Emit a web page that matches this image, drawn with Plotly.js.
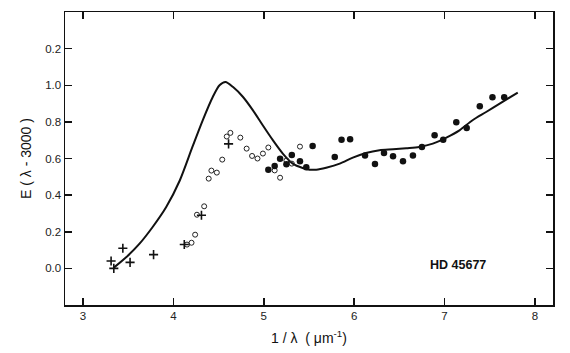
<!DOCTYPE html>
<html>
<head>
<meta charset="utf-8">
<script src="https://cdn.plot.ly/plotly-3.0.1.min.js"></script>
<style>html,body{margin:0;padding:0;background:#fff;}#chart{width:570px;height:353px;}</style>
</head>
<body>
<div id="chart"></div>
<script>
// Data
var plusX = [3.31, 3.34, 3.44, 3.52, 3.78, 4.12, 4.31, 4.61];
var plusY = [0.04, 0.00, 0.11, 0.033, 0.075, 0.13, 0.29, 0.68];

var openX = [4.15, 4.20, 4.24, 4.26, 4.34, 4.39, 4.42, 4.48, 4.54, 4.59, 4.63, 4.74, 4.81, 4.87, 4.93, 4.99, 5.05, 5.12, 5.18, 5.25, 5.31, 5.40];
var openY = [0.13, 0.14, 0.184, 0.293, 0.339, 0.49, 0.534, 0.523, 0.594, 0.72, 0.74, 0.714, 0.654, 0.614, 0.60, 0.627, 0.66, 0.535, 0.495, 0.589, 0.572, 0.665];

var filledX = [5.05, 5.12, 5.18, 5.25, 5.31, 5.40, 5.47, 5.54, 5.785, 5.86, 5.955, 6.12, 6.23, 6.33, 6.43, 6.54, 6.65, 6.75, 6.89, 6.985, 7.13, 7.245, 7.39, 7.53, 7.66];
var filledY = [0.539, 0.559, 0.599, 0.568, 0.619, 0.585, 0.552, 0.668, 0.608, 0.703, 0.705, 0.617, 0.570, 0.630, 0.612, 0.585, 0.617, 0.663, 0.727, 0.703, 0.798, 0.767, 0.885, 0.934, 0.934];

var curveX = [3.34, 3.48, 3.625, 3.77, 3.92, 4.07, 4.21, 4.325, 4.435, 4.51, 4.576, 4.66, 4.77, 4.88, 4.99, 5.10, 5.21, 5.32, 5.43, 5.505, 5.58, 5.69, 5.84, 5.985, 6.13, 6.28, 6.43, 6.575, 6.72, 6.87, 7.02, 7.165, 7.31, 7.46, 7.61, 7.81];
var curveY = [0.004, 0.062, 0.135, 0.226, 0.335, 0.48, 0.663, 0.81, 0.936, 1.0, 1.018, 0.99, 0.936, 0.863, 0.78, 0.70, 0.627, 0.572, 0.548, 0.539, 0.539, 0.55, 0.572, 0.605, 0.63, 0.645, 0.65, 0.656, 0.663, 0.681, 0.714, 0.754, 0.809, 0.854, 0.90, 0.96];

var xTicks = [3, 4, 5, 6, 7, 8];
var yTicks = [0, 0.2, 0.4, 0.6, 0.8, 1.0, 1.2];
var yTickText = ["0.0", "0.2", "0.4", "0.6", "0.8", "1.0", "0.2"];

var traces = [
  {x: curveX, y: curveY, mode: 'lines', line: {color: '#111', width: 2, shape: 'spline', smoothing: 0.8}, hoverinfo: 'skip'},
  {x: openX, y: openY, mode: 'markers', marker: {symbol: 'circle-open', size: 5, color: '#222', line: {width: 1, color: '#222'}}},
  {x: filledX, y: filledY, mode: 'markers', marker: {symbol: 'circle', size: 6.5, color: '#111'}},
  {x: plusX, y: plusY, mode: 'markers', marker: {symbol: 'cross-thin-open', size: 6.5, color: '#111', line: {width: 1.6, color: '#111'}}}
];

var layout = {
  width: 570, height: 353,
  margin: {l: 65, r: 17, t: 12, b: 48},
  paper_bgcolor: '#fff', plot_bgcolor: '#fff',
  showlegend: false,
  font: {family: 'Liberation Sans, Arial, sans-serif', color: '#222', size: 11},
  xaxis: {
    range: [2.8, 8.2], tickvals: xTicks, ticktext: xTicks.map(String),
    ticks: 'inside', ticklen: 7, tickwidth: 1.5, tickcolor: '#111',
    showline: true, linecolor: '#111', linewidth: 1.5, mirror: 'ticks',
    showgrid: false, zeroline: false,
    tickfont: {size: 11.5},
    title: {text: '1 / λ  ( μm<sup>-1</sup>)', font: {size: 14, color: '#111'}, standoff: 12}
  },
  yaxis: {
    range: [-0.2, 1.4], tickvals: yTicks, ticktext: yTickText,
    ticks: 'inside', ticklen: 7, tickwidth: 1.5, tickcolor: '#111',
    showline: true, linecolor: '#111', linewidth: 1.5, mirror: 'ticks',
    showgrid: false, zeroline: false,
    tickfont: {size: 11.5},
    title: {text: 'E ( λ - 3000 )', font: {size: 14, color: '#111'}, standoff: 10}
  },
  annotations: [
    {x: 7.15, y: 0.02, xref: 'x', yref: 'y', text: '<b>HD 45677</b>', showarrow: false, font: {size: 12.5, color: '#111'}}
  ]
};

Plotly.newPlot('chart', traces, layout, {staticPlot: true});
</script>
</body>
</html>
